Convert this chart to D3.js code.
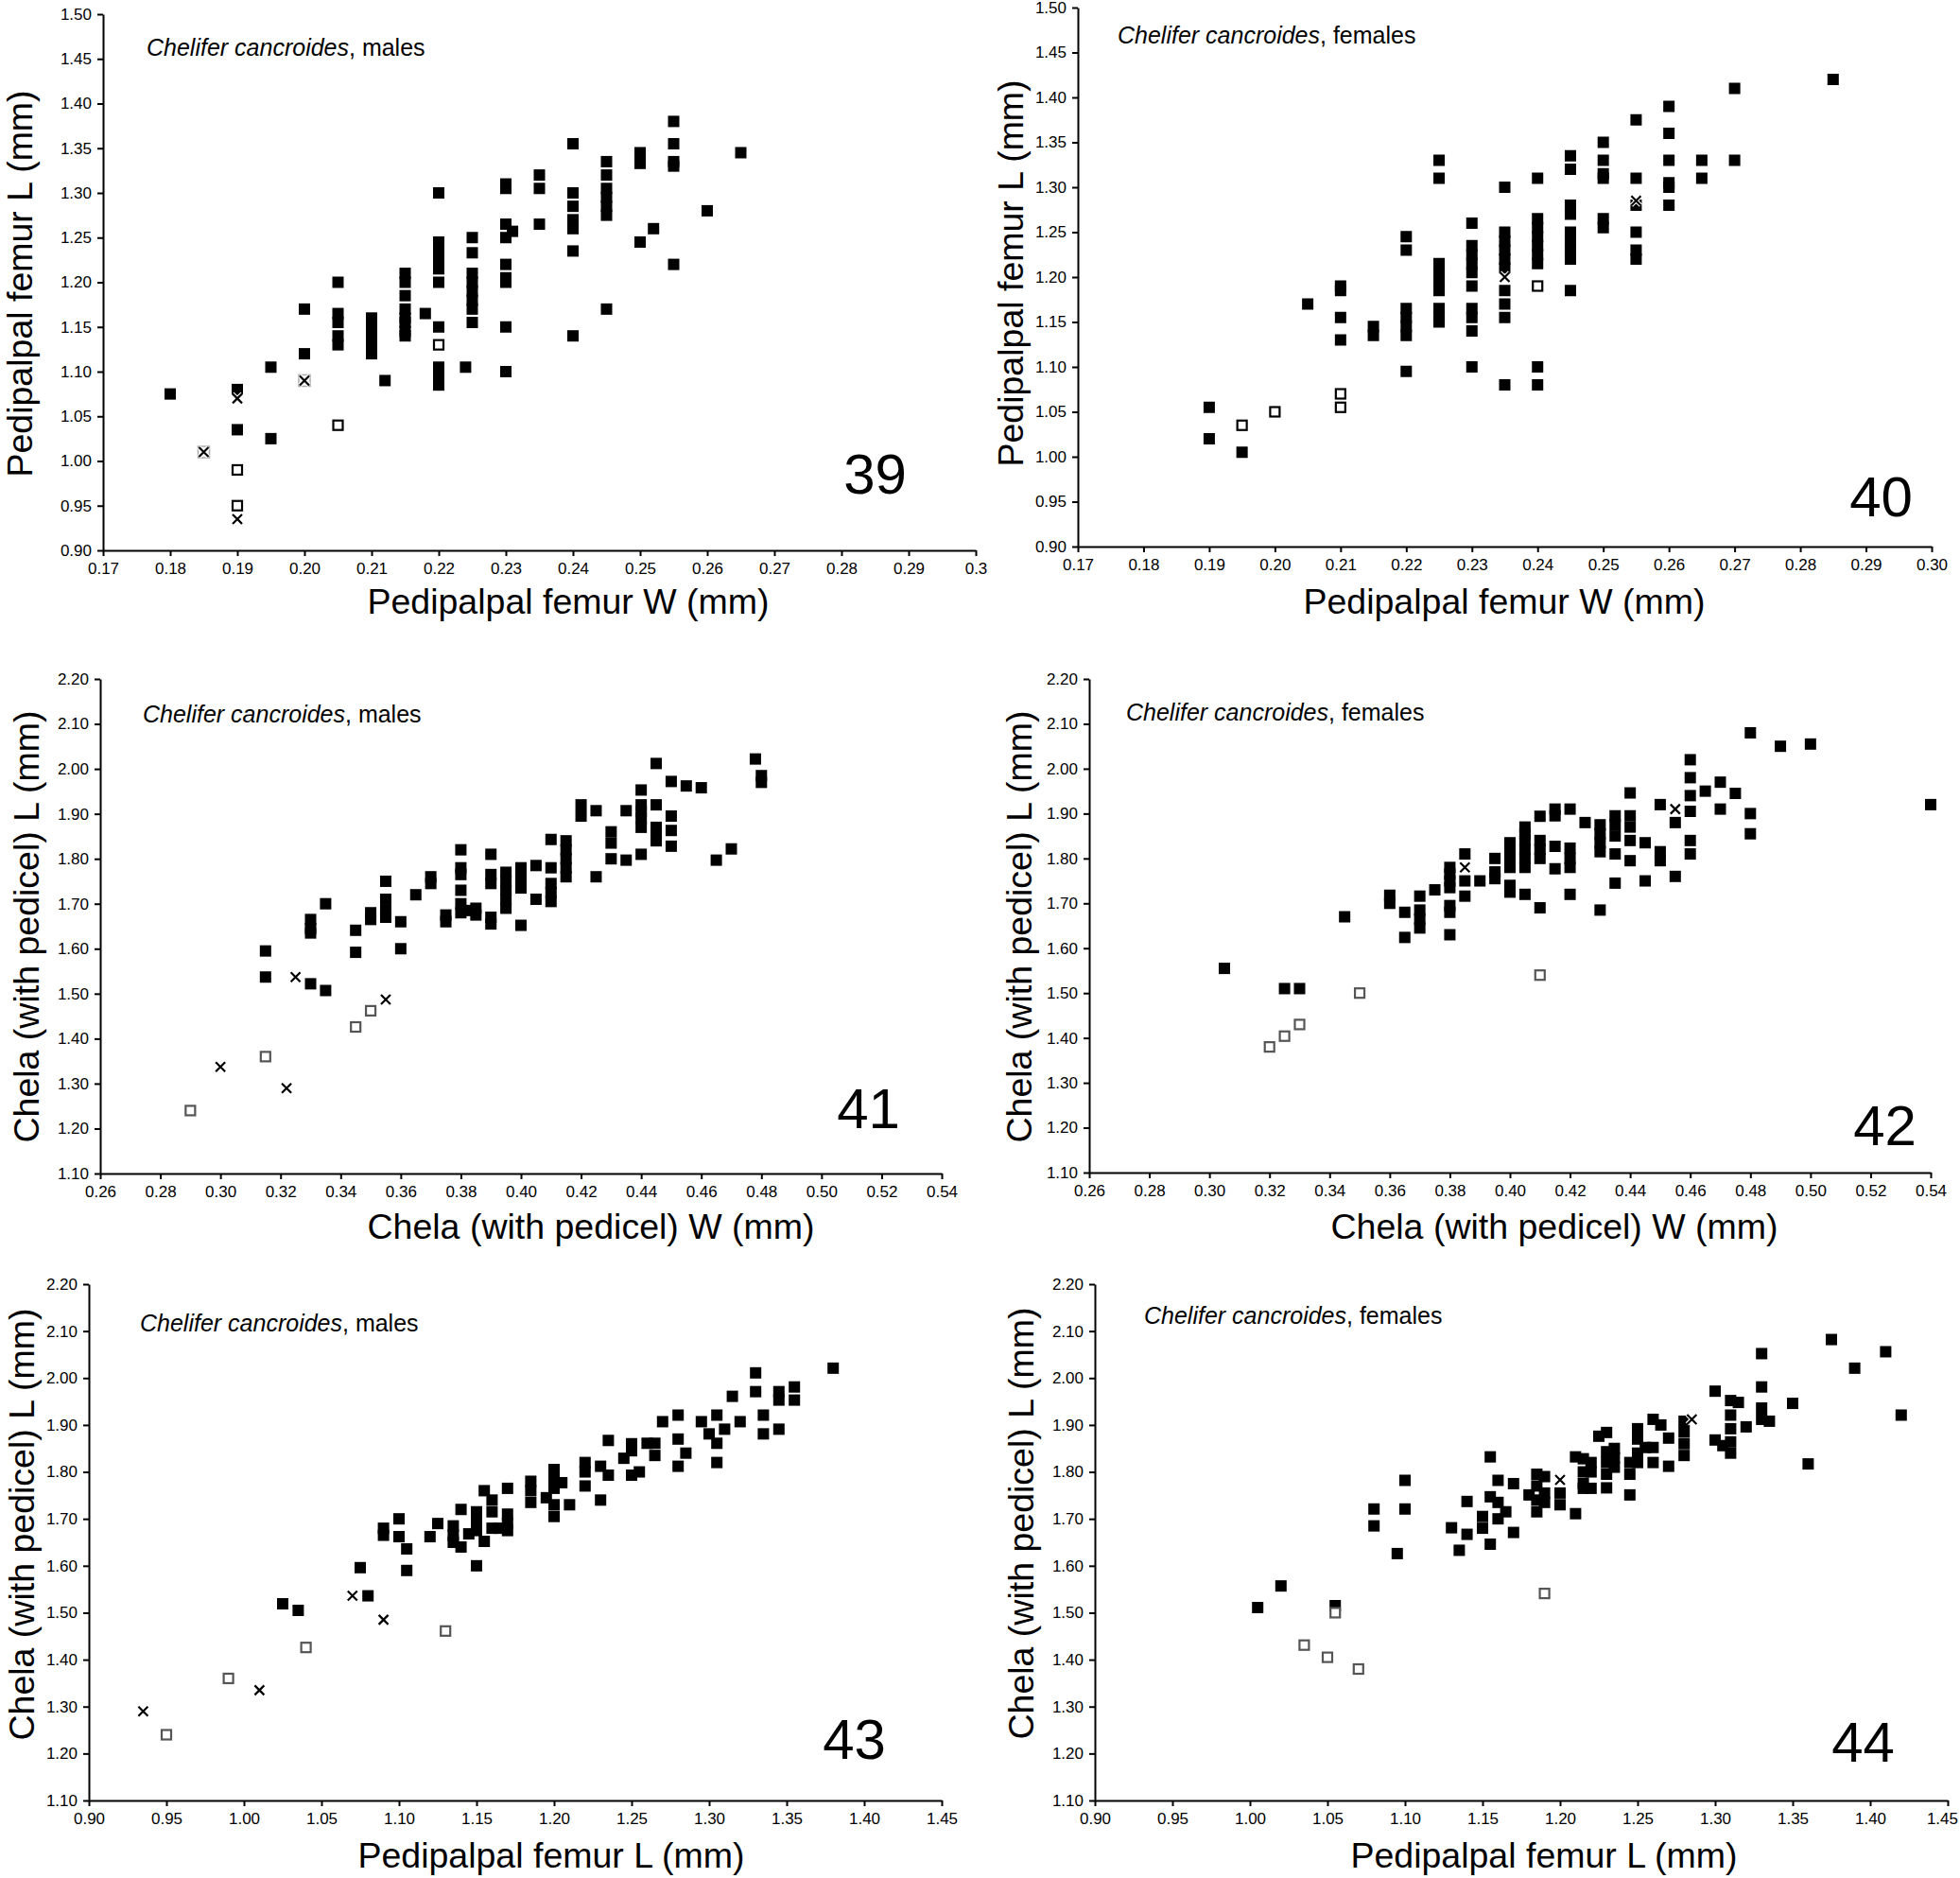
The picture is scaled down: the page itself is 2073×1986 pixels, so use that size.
<!DOCTYPE html>
<html><head><meta charset="utf-8">
<script src="https://cdn.jsdelivr.net/npm/d3@7"></script>
<style>
body{margin:0;background:#fff}
text{font-family:"Liberation Sans",Arial,sans-serif}
</style>
</head><body>
<svg id="c" width="2073" height="1986"></svg>
<script>
// ---------- tick values ----------
const femurWTicks = [0.17,0.18,0.19,0.20,0.21,0.22,0.23,0.24,0.25,0.26,0.27,0.28,0.29,0.30];
const femurWLabels39 = ["0.17","0.18","0.19","0.20","0.21","0.22","0.23","0.24","0.25","0.26","0.27","0.28","0.29","0.3"];
const femurWLabels40 = ["0.17","0.18","0.19","0.20","0.21","0.22","0.23","0.24","0.25","0.26","0.27","0.28","0.29","0.30"];
const femurLyTicks = [0.90,0.95,1.00,1.05,1.10,1.15,1.20,1.25,1.30,1.35,1.40,1.45,1.50];
const chelaWTicks = [0.26,0.28,0.30,0.32,0.34,0.36,0.38,0.40,0.42,0.44,0.46,0.48,0.50,0.52,0.54];
const chelaLTicks = [1.10,1.20,1.30,1.40,1.50,1.60,1.70,1.80,1.90,2.00,2.10,2.20];
const femurLxTicks = [0.90,0.95,1.00,1.05,1.10,1.15,1.20,1.25,1.30,1.35,1.40,1.45];

// ---------- Panel 39: males, femur W vs femur L ----------
const p39Filled = [[0.18,1.075],[0.19,1.08],[0.19,1.035],[0.195,1.105],[0.195,1.025],[0.20,1.17],[0.20,1.12],
[0.205,1.20],[0.205,1.165],[0.205,1.155],[0.205,1.14],[0.205,1.13],
[0.21,1.16],[0.21,1.15],[0.21,1.14],[0.21,1.13],[0.21,1.12],[0.212,1.09],
[0.215,1.21],[0.215,1.20],[0.215,1.185],[0.215,1.17],[0.215,1.16],[0.215,1.155],[0.215,1.145],[0.215,1.14],[0.218,1.165],
[0.22,1.30],[0.22,1.245],[0.22,1.235],[0.22,1.225],[0.22,1.215],[0.22,1.20],[0.22,1.15],[0.22,1.105],[0.22,1.095],[0.22,1.085],[0.224,1.105],
[0.225,1.25],[0.225,1.233],[0.225,1.21],[0.225,1.20],[0.225,1.19],[0.225,1.18],[0.225,1.17],[0.225,1.155],
[0.23,1.31],[0.23,1.305],[0.23,1.265],[0.23,1.25],[0.23,1.22],[0.23,1.205],[0.23,1.20],[0.23,1.15],[0.23,1.10],[0.231,1.257],
[0.235,1.32],[0.235,1.305],[0.235,1.265],
[0.24,1.355],[0.24,1.30],[0.24,1.285],[0.24,1.27],[0.24,1.26],[0.24,1.235],[0.24,1.14],
[0.245,1.335],[0.245,1.32],[0.245,1.305],[0.245,1.295],[0.245,1.285],[0.245,1.275],[0.245,1.17],
[0.25,1.345],[0.25,1.333],[0.25,1.245],[0.252,1.26],
[0.255,1.38],[0.255,1.355],[0.255,1.335],[0.255,1.33],[0.255,1.22],[0.26,1.28],[0.265,1.345]];
const p39Open = [[0.19,0.99],[0.19,0.95],[0.205,1.04],[0.22,1.13]];
const p39Cross = [[0.19,1.07],[0.19,0.935]];
const p39CrossBox = [[0.185,1.01],[0.20,1.09]];

// ---------- Panel 40: females, femur W vs femur L ----------
const p40Filled = [[0.19,1.055],[0.19,1.02],[0.195,1.005],[0.205,1.17],
[0.21,1.19],[0.21,1.185],[0.21,1.155],[0.21,1.13],[0.215,1.145],[0.215,1.135],
[0.22,1.245],[0.22,1.23],[0.22,1.165],[0.22,1.155],[0.22,1.145],[0.22,1.135],[0.22,1.095],
[0.225,1.33],[0.225,1.31],[0.225,1.215],[0.225,1.205],[0.225,1.195],[0.225,1.185],[0.225,1.165],[0.225,1.155],[0.225,1.15],
[0.23,1.26],[0.23,1.235],[0.23,1.225],[0.23,1.215],[0.23,1.205],[0.23,1.19],[0.23,1.165],[0.23,1.155],[0.23,1.14],[0.23,1.10],
[0.235,1.30],[0.235,1.25],[0.235,1.24],[0.235,1.23],[0.235,1.22],[0.235,1.21],[0.235,1.185],[0.235,1.17],[0.235,1.155],[0.235,1.08],
[0.24,1.31],[0.24,1.265],[0.24,1.255],[0.24,1.245],[0.24,1.235],[0.24,1.225],[0.24,1.215],[0.24,1.10],[0.24,1.08],
[0.245,1.335],[0.245,1.32],[0.245,1.28],[0.245,1.27],[0.245,1.25],[0.245,1.24],[0.245,1.23],[0.245,1.22],[0.245,1.185],
[0.25,1.35],[0.25,1.33],[0.25,1.315],[0.25,1.31],[0.25,1.265],[0.25,1.255],
[0.255,1.375],[0.255,1.31],[0.255,1.28],[0.255,1.25],[0.255,1.23],[0.255,1.22],
[0.26,1.39],[0.26,1.36],[0.26,1.33],[0.26,1.305],[0.26,1.30],[0.26,1.28],
[0.265,1.33],[0.265,1.31],[0.27,1.41],[0.27,1.33],[0.285,1.42]];
const p40Open = [[0.195,1.035],[0.20,1.05],[0.21,1.07],[0.21,1.055],[0.24,1.19]];
const p40Cross = [[0.235,1.20],[0.255,1.285]];

// ---------- Panel 41: males, chela W vs chela L ----------
const p41Filled = [[0.315,1.595],[0.315,1.537],[0.33,1.522],[0.33,1.665],[0.33,1.645],[0.33,1.635],
[0.335,1.70],[0.335,1.507],[0.345,1.641],[0.345,1.592],[0.35,1.68],[0.35,1.665],
[0.355,1.75],[0.355,1.71],[0.355,1.685],[0.355,1.67],[0.36,1.66],[0.36,1.60],[0.365,1.72],
[0.37,1.76],[0.37,1.745],[0.375,1.675],[0.375,1.66],
[0.38,1.82],[0.38,1.78],[0.38,1.765],[0.38,1.73],[0.38,1.70],[0.38,1.68],[0.383,1.685],[0.385,1.69],[0.385,1.675],
[0.39,1.81],[0.39,1.765],[0.39,1.745],[0.39,1.67],[0.39,1.655],
[0.395,1.77],[0.395,1.75],[0.395,1.73],[0.395,1.71],[0.395,1.69],
[0.40,1.78],[0.40,1.765],[0.40,1.75],[0.40,1.735],[0.40,1.652],[0.405,1.785],[0.405,1.71],
[0.41,1.843],[0.41,1.78],[0.41,1.745],[0.41,1.725],[0.41,1.705],
[0.415,1.84],[0.415,1.82],[0.415,1.80],[0.415,1.78],[0.415,1.76],
[0.42,1.92],[0.42,1.895],[0.425,1.907],[0.425,1.76],[0.43,1.86],[0.43,1.835],[0.43,1.80],
[0.435,1.907],[0.435,1.797],[0.44,1.953],[0.44,1.92],[0.44,1.905],[0.44,1.89],[0.44,1.87],[0.44,1.81],
[0.445,2.012],[0.445,1.92],[0.445,1.87],[0.445,1.855],[0.445,1.84],
[0.45,1.972],[0.45,1.895],[0.45,1.863],[0.45,1.828],[0.455,1.962],[0.46,1.958],[0.465,1.797],[0.47,1.822],
[0.478,2.022],[0.48,1.985],[0.48,1.97]];
const p41Open = [[0.29,1.24],[0.315,1.36],[0.345,1.426],[0.35,1.462]];
const p41Cross = [[0.30,1.337],[0.322,1.29],[0.325,1.537],[0.355,1.487]];

// ---------- Panel 42: females, chela W vs chela L ----------
const p42Filled = [[0.305,1.555],[0.325,1.51],[0.33,1.51],[0.345,1.67],[0.36,1.718],[0.36,1.70],
[0.365,1.68],[0.365,1.624],[0.37,1.716],[0.37,1.685],[0.37,1.665],[0.37,1.645],[0.375,1.73],
[0.38,1.78],[0.38,1.765],[0.38,1.75],[0.38,1.735],[0.38,1.695],[0.38,1.68],[0.38,1.63],
[0.385,1.81],[0.385,1.75],[0.385,1.716],[0.39,1.75],[0.395,1.80],[0.395,1.77],[0.395,1.755],
[0.40,1.835],[0.40,1.82],[0.40,1.80],[0.40,1.78],[0.40,1.74],[0.40,1.725],
[0.405,1.87],[0.405,1.855],[0.405,1.84],[0.405,1.82],[0.405,1.80],[0.405,1.78],[0.405,1.72],
[0.41,1.894],[0.41,1.84],[0.41,1.82],[0.41,1.80],[0.41,1.69],
[0.415,1.91],[0.415,1.895],[0.415,1.827],[0.415,1.777],
[0.42,1.91],[0.42,1.823],[0.42,1.80],[0.42,1.78],[0.42,1.72],[0.425,1.88],
[0.43,1.875],[0.43,1.855],[0.43,1.835],[0.43,1.815],[0.43,1.685],
[0.435,1.895],[0.435,1.875],[0.435,1.85],[0.435,1.81],[0.435,1.745],
[0.44,1.946],[0.44,1.895],[0.44,1.87],[0.44,1.84],[0.44,1.795],[0.445,1.835],[0.445,1.75],
[0.45,1.92],[0.45,1.815],[0.45,1.795],[0.455,1.88],[0.455,1.76],
[0.46,2.02],[0.46,1.98],[0.46,1.94],[0.46,1.905],[0.46,1.84],[0.46,1.81],
[0.465,1.95],[0.47,1.97],[0.47,1.91],[0.475,1.945],[0.48,2.08],[0.48,1.90],[0.48,1.855],
[0.49,2.05],[0.50,2.055],[0.54,1.92]];
const p42Open = [[0.32,1.38],[0.325,1.404],[0.33,1.43],[0.35,1.50],[0.41,1.54]];
const p42Cross = [[0.385,1.78],[0.455,1.91]];

// ---------- Panel 43: males, femur L vs chela L ----------
const p43Filled = [[1.025,1.519],[1.035,1.505],[1.075,1.596],[1.08,1.536],[1.09,1.68],[1.09,1.665],
[1.10,1.70],[1.10,1.662],[1.105,1.636],[1.105,1.59],[1.12,1.662],[1.125,1.69],
[1.135,1.685],[1.135,1.665],[1.135,1.65],[1.14,1.72],[1.14,1.64],[1.145,1.668],
[1.15,1.715],[1.15,1.695],[1.15,1.675],[1.15,1.60],[1.155,1.76],[1.155,1.652],
[1.16,1.74],[1.16,1.715],[1.16,1.68],[1.165,1.68],[1.17,1.765],[1.17,1.71],[1.17,1.69],[1.17,1.675],
[1.185,1.78],[1.185,1.76],[1.185,1.735],[1.195,1.745],
[1.20,1.805],[1.20,1.785],[1.20,1.765],[1.20,1.73],[1.20,1.705],[1.205,1.777],[1.21,1.73],
[1.22,1.82],[1.22,1.80],[1.22,1.77],[1.23,1.812],[1.23,1.74],[1.235,1.867],[1.235,1.793],[1.245,1.829],
[1.25,1.86],[1.25,1.845],[1.25,1.793],[1.255,1.80],[1.26,1.861],[1.265,1.861],[1.265,1.835],[1.27,1.907],
[1.28,1.921],[1.28,1.87],[1.28,1.812],[1.285,1.84],[1.295,1.907],[1.30,1.881],
[1.305,1.921],[1.305,1.861],[1.305,1.82],[1.31,1.891],[1.315,1.961],[1.32,1.907],
[1.33,2.011],[1.33,1.971],[1.335,1.921],[1.335,1.881],[1.345,1.971],[1.345,1.953],[1.345,1.891],
[1.355,1.981],[1.355,1.953],[1.38,2.021]];
const p43Open = [[0.95,1.24],[0.99,1.36],[1.04,1.426],[1.13,1.461]];
const p43Cross = [[0.935,1.29],[1.01,1.335],[1.07,1.536],[1.09,1.485]];

// ---------- Panel 44: females, femur L vs chela L ----------
const p44Filled = [[1.005,1.511],[1.02,1.557],[1.055,1.515],[1.08,1.721],[1.08,1.685],[1.095,1.626],[1.10,1.782],[1.10,1.721],
[1.13,1.681],[1.135,1.633],[1.14,1.737],[1.14,1.667],[1.15,1.705],[1.15,1.68],
[1.155,1.832],[1.155,1.747],[1.155,1.646],[1.16,1.782],[1.16,1.735],[1.16,1.70],
[1.165,1.715],[1.17,1.775],[1.17,1.671],[1.18,1.751],
[1.185,1.795],[1.185,1.77],[1.185,1.74],[1.185,1.715],[1.19,1.79],[1.19,1.755],[1.19,1.735],
[1.20,1.755],[1.20,1.73],[1.21,1.832],[1.21,1.711],
[1.215,1.828],[1.215,1.80],[1.215,1.775],[1.215,1.765],[1.22,1.82],[1.22,1.80],[1.22,1.765],[1.225,1.876],
[1.23,1.884],[1.23,1.843],[1.23,1.82],[1.23,1.795],[1.23,1.766],[1.235,1.85],[1.235,1.83],[1.235,1.81],
[1.245,1.82],[1.245,1.795],[1.245,1.751],[1.25,1.892],[1.25,1.87],[1.25,1.84],[1.25,1.82],[1.255,1.852],
[1.26,1.912],[1.26,1.852],[1.26,1.82],[1.265,1.90],[1.27,1.872],[1.27,1.812],
[1.28,1.908],[1.28,1.885],[1.28,1.86],[1.28,1.835],[1.30,1.972],[1.30,1.868],[1.305,1.856],
[1.31,1.952],[1.31,1.921],[1.31,1.892],[1.31,1.864],[1.31,1.84],[1.315,1.948],[1.32,1.896],
[1.33,2.052],[1.33,1.981],[1.33,1.936],[1.33,1.912],[1.335,1.908],[1.35,1.946],[1.36,1.817],
[1.375,2.082],[1.39,2.021],[1.41,2.056],[1.42,1.921]];
const p44Open = [[1.035,1.431],[1.05,1.405],[1.055,1.50],[1.07,1.38],[1.19,1.541]];
const p44Cross = [[1.20,1.783],[1.285,1.912]];

// ---------- text ----------
const titleFemurW = "Pedipalpal femur W (mm)";
const titleFemurL = "Pedipalpal femur L (mm)";
const titleChelaW = "Chela (with pedicel) W (mm)";
const titleChelaL = "Chela (with pedicel) L (mm)";
const speciesName = "Chelifer cancroides";
const sexMales = ", males";
const sexFemales = ", females";

const f2 = d3.format(".2f");

// ---------- panel layout (positions & styles) ----------
const panels = [
 {num:"39", filled:p39Filled, open:p39Open, cross:p39Cross, crossBox:p39CrossBox, openColor:"#000",
  xd:[0.17,0.30], yd:[0.90,1.50], xt:femurWTicks, xl:femurWLabels39, yt:femurLyTicks,
  x0:109,x1:1032,y0:15,y1:582, xTitle:titleFemurW, yTitle:titleFemurL, sex:sexMales,
  xtX:601,xtY:649, ytX:34,ytY:300, anX:155,anY:59, nX:959,nY:522},
 {num:"40", filled:p40Filled, open:p40Open, cross:p40Cross, crossBox:[], openColor:"#000",
  xd:[0.17,0.30], yd:[0.90,1.50], xt:femurWTicks, xl:femurWLabels40, yt:femurLyTicks,
  x0:1140,x1:2043,y0:8,y1:578, xTitle:titleFemurW, yTitle:titleFemurL, sex:sexFemales,
  xtX:1591,xtY:649, ytX:1082,ytY:289, anX:1182,anY:46, nX:2023,nY:546},
 {num:"41", filled:p41Filled, open:p41Open, cross:p41Cross, crossBox:[], openColor:"#555",
  xd:[0.26,0.54], yd:[1.10,2.20], xt:chelaWTicks, xl:chelaWTicks.map(f2), yt:chelaLTicks,
  x0:106,x1:996,y0:718,y1:1241, xTitle:titleChelaW, yTitle:titleChelaL, sex:sexMales,
  xtX:625,xtY:1310, ytX:41,ytY:980, anX:151,anY:764, nX:952,nY:1193},
 {num:"42", filled:p42Filled, open:p42Open, cross:p42Cross, crossBox:[], openColor:"#555",
  xd:[0.26,0.54], yd:[1.10,2.20], xt:chelaWTicks, xl:chelaWTicks.map(f2), yt:chelaLTicks,
  x0:1152,x1:2042,y0:718,y1:1240, xTitle:titleChelaW, yTitle:titleChelaL, sex:sexFemales,
  xtX:1644,xtY:1310, ytX:1091,ytY:980, anX:1191,anY:762, nX:2027,nY:1211},
 {num:"43", filled:p43Filled, open:p43Open, cross:p43Cross, crossBox:[], openColor:"#555",
  xd:[0.90,1.45], yd:[1.10,2.20], xt:femurLxTicks, xl:femurLxTicks.map(f2), yt:chelaLTicks,
  x0:94,x1:996,y0:1358,y1:1904, xTitle:titleFemurL, yTitle:titleChelaL, sex:sexMales,
  xtX:583,xtY:1975, ytX:36,ytY:1612, anX:148,anY:1408, nX:937,nY:1860},
 {num:"44", filled:p44Filled, open:p44Open, cross:p44Cross, crossBox:[], openColor:"#555",
  xd:[0.90,1.45], yd:[1.10,2.20], xt:femurLxTicks, xl:femurLxTicks.map(f2), yt:chelaLTicks,
  x0:1158,x1:2060,y0:1358,y1:1904, xTitle:titleFemurL, yTitle:titleChelaL, sex:sexFemales,
  xtX:1633,xtY:1975, ytX:1093,ytY:1611, anX:1210,anY:1400, nX:2004,nY:1863}
];

const W = 2073;
const svg = d3.select("#c");
svg.append("rect").attr("width",W).attr("height",1986).attr("fill","#fff");

const SQ = 12, OS = 10, CR = 5;

panels.forEach(p => {
  const x = d3.scaleLinear().domain(p.xd).range([p.x0,p.x1]);
  const y = d3.scaleLinear().domain(p.yd).range([p.y1,p.y0]);
  const g = svg.append("g");

  // axes
  const xa = d3.axisBottom(x).tickValues(p.xt).tickSize(6).tickSizeOuter(0).tickPadding(7)
      .tickFormat((d,i)=>p.xl[i]);
  const ya = d3.axisLeft(y).tickValues(p.yt).tickSize(6).tickSizeOuter(0).tickPadding(6)
      .tickFormat(f2);
  const gx = g.append("g").attr("transform",`translate(0,${p.y1})`).call(xa);
  const gy = g.append("g").attr("transform",`translate(${p.x0},0)`).call(ya);
  [gx,gy].forEach(a=>{
    a.select(".domain").attr("stroke","#000").attr("stroke-width",2);
    a.selectAll(".tick line").attr("stroke","#000").attr("stroke-width",2);
    a.selectAll(".tick text").attr("fill","#000").attr("font-size",17)
      .attr("font-family","'Liberation Sans',Arial,sans-serif");
  });
  // keep edge labels inside the page
  gx.selectAll(".tick text").each(function(){
    const bb = this.getBBox();
    const tr = this.parentNode.getAttribute("transform");
    const tx = +tr.match(/translate\(([-\d.]+)/)[1];
    const over = tx + bb.x + bb.width - (W - 2);
    if (over > 0) d3.select(this).attr("x", -over);
  });

  // filled squares
  g.append("g").selectAll("rect").data(p.filled).join("rect")
    .attr("x",d=>x(d[0])-SQ/2).attr("y",d=>y(d[1])-SQ/2)
    .attr("width",SQ).attr("height",SQ).attr("fill","#000");

  // cross on light box
  g.append("g").selectAll("rect").data(p.crossBox).join("rect")
    .attr("x",d=>x(d[0])-6).attr("y",d=>y(d[1])-6)
    .attr("width",12).attr("height",12).attr("fill","#fff")
    .attr("stroke","#aaa").attr("stroke-width",1.5);

  // open squares
  g.append("g").selectAll("rect").data(p.open).join("rect")
    .attr("x",d=>x(d[0])-OS/2).attr("y",d=>y(d[1])-OS/2)
    .attr("width",OS).attr("height",OS).attr("fill","#fff")
    .attr("stroke",p.openColor).attr("stroke-width",2.2);

  // crosses
  const crossPath = `M${-CR},${-CR}L${CR},${CR}M${-CR},${CR}L${CR},${-CR}`;
  const allCross = p.cross.concat(p.crossBox);
  g.append("g").selectAll("path.h").data(allCross).join("path")
    .attr("d",crossPath).attr("transform",d=>`translate(${x(d[0])},${y(d[1])})`)
    .attr("stroke","#fff").attr("stroke-width",4.5).attr("fill","none");
  g.append("g").selectAll("path.c").data(allCross).join("path")
    .attr("d",crossPath).attr("transform",d=>`translate(${x(d[0])},${y(d[1])})`)
    .attr("stroke","#000").attr("stroke-width",2.2).attr("fill","none");

  // axis titles
  g.append("text").attr("x",p.xtX).attr("y",p.xtY).attr("text-anchor","middle")
    .attr("font-size",37.5).attr("fill","#000").text(p.xTitle);
  g.append("text").attr("transform",`translate(${p.ytX},${p.ytY}) rotate(-90)`)
    .attr("text-anchor","middle").attr("font-size",37.5).attr("fill","#000").text(p.yTitle);

  // species annotation
  const an = g.append("text").attr("x",p.anX).attr("y",p.anY).attr("font-size",25).attr("fill","#000");
  an.append("tspan").attr("font-style","italic").text(speciesName);
  an.append("tspan").text(p.sex);

  // figure number
  g.append("text").attr("x",p.nX).attr("y",p.nY).attr("text-anchor","end")
    .attr("font-size",60).attr("fill","#000").text(p.num);
});
</script>
</body></html>
